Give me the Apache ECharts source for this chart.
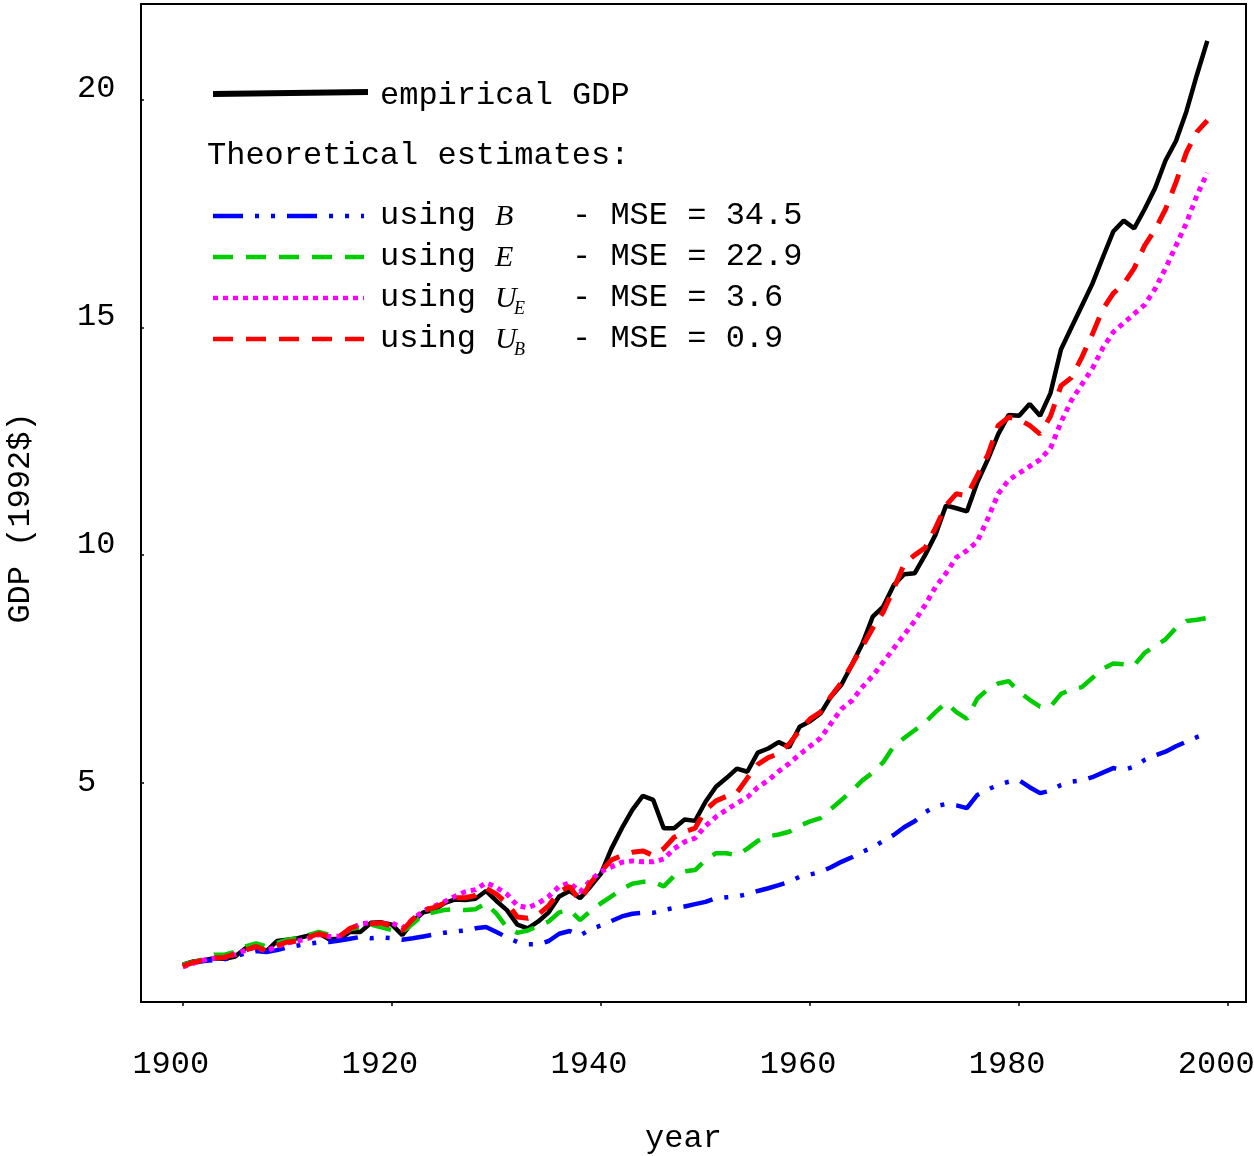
<!DOCTYPE html>
<html>
<head>
<meta charset="utf-8">
<script src="https://cdn.jsdelivr.net/npm/echarts@6/dist/echarts.min.js"></script>
<style>
  html, body { margin: 0; padding: 0; background: #fff; }
  #chart { width: 1254px; height: 1156px; }
</style>
</head>
<body>
<div id="chart"></div>
<script>
// yearly values, 1900 .. 1998
var firstYear = 1900;
var empiricalGDP = [
  1.00, 1.07, 1.10, 1.14, 1.13, 1.18, 1.36, 1.38, 1.30, 1.52,
  1.55, 1.58, 1.64, 1.69, 1.56, 1.57, 1.72, 1.72, 1.92, 1.93,
  1.88, 1.65, 1.95, 2.15, 2.20, 2.35, 2.43, 2.42, 2.45, 2.62,
  2.40, 2.20, 1.88, 1.80, 1.95, 2.15, 2.50, 2.62, 2.46, 2.72,
  3.00, 3.55, 4.00, 4.40, 4.71, 4.62, 4.00, 4.00, 4.19, 4.16,
  4.58, 4.91, 5.10, 5.31, 5.24, 5.66, 5.75, 5.89, 5.78, 6.23,
  6.35, 6.52, 6.89, 7.15, 7.59, 8.05, 8.65, 8.87, 9.34, 9.58,
  9.60, 10.00, 10.45, 11.09, 11.03, 10.96, 11.60, 12.10, 12.66, 13.08,
  13.06, 13.32, 13.06, 13.56, 14.52, 15.00, 15.48, 15.96, 16.54, 17.11,
  17.35, 17.18, 17.60, 18.06, 18.67, 19.10, 19.75, 20.55, 21.30
];
var usingB = [
  0.98, 1.04, 1.08, 1.10, 1.12, 1.18, 1.25, 1.30, 1.28, 1.32,
  1.38, 1.42, 1.46, 1.49, 1.50, 1.53, 1.57, 1.61, 1.58, 1.60,
  1.58, 1.55, 1.58, 1.62, 1.66, 1.70, 1.73, 1.75, 1.80, 1.83,
  1.72, 1.60, 1.50, 1.45, 1.45, 1.52, 1.68, 1.74, 1.64, 1.78,
  1.86, 1.96, 2.06, 2.12, 2.14, 2.14, 2.20, 2.25, 2.28, 2.33,
  2.38, 2.46, 2.48, 2.50, 2.55, 2.62, 2.68, 2.75, 2.82, 2.93,
  2.98, 3.04, 3.14, 3.26, 3.36, 3.48, 3.58, 3.72, 3.85, 4.02,
  4.15, 4.35, 4.48, 4.53, 4.50, 4.44, 4.73, 4.85, 4.95, 5.02,
  5.05, 4.90, 4.77, 4.82, 4.95, 5.02, 5.05, 5.12, 5.22, 5.32,
  5.28, 5.35, 5.50, 5.60, 5.68, 5.80, 5.90, 6.00, 6.08
];
var usingE = [
  1.00, 1.06, 1.12, 1.22, 1.22, 1.28, 1.40, 1.47, 1.40, 1.48,
  1.55, 1.58, 1.65, 1.72, 1.66, 1.64, 1.78, 1.82, 1.88, 1.82,
  1.76, 1.72, 1.90, 2.10, 2.15, 2.20, 2.22, 2.20, 2.22, 2.35,
  2.12, 1.82, 1.70, 1.75, 1.85, 1.95, 2.15, 2.20, 1.98, 2.18,
  2.35, 2.50, 2.66, 2.78, 2.82, 2.82, 2.72, 2.95, 3.05, 3.08,
  3.30, 3.45, 3.45, 3.40, 3.55, 3.72, 3.82, 3.86, 3.92, 4.05,
  4.15, 4.22, 4.42, 4.62, 4.82, 5.05, 5.22, 5.45, 5.80, 5.98,
  6.15, 6.32, 6.55, 6.76, 6.55, 6.40, 6.85, 7.05, 7.18, 7.23,
  7.00, 6.82, 6.67, 6.67, 6.95, 7.05, 7.10, 7.30, 7.50, 7.62,
  7.60, 7.58, 7.85, 8.00, 8.15, 8.40, 8.55, 8.58, 8.62
];
var usingUE = [
  0.95, 1.03, 1.10, 1.14, 1.16, 1.22, 1.32, 1.38, 1.30, 1.40,
  1.48, 1.52, 1.58, 1.66, 1.62, 1.63, 1.78, 1.90, 1.92, 1.88,
  1.92, 1.80, 2.00, 2.18, 2.28, 2.38, 2.50, 2.60, 2.65, 2.80,
  2.70, 2.55, 2.30, 2.25, 2.35, 2.50, 2.72, 2.80, 2.60, 2.85,
  3.05, 3.15, 3.25, 3.28, 3.26, 3.26, 3.32, 3.55, 3.70, 3.78,
  4.05, 4.25, 4.40, 4.55, 4.68, 4.90, 5.05, 5.25, 5.42, 5.62,
  5.80, 5.98, 6.30, 6.62, 6.80, 7.10, 7.35, 7.65, 7.95, 8.25,
  8.55, 8.90, 9.30, 9.60, 9.95, 10.10, 10.30, 10.80, 11.35, 11.65,
  11.80, 11.95, 12.10, 12.35, 12.92, 13.40, 13.75, 14.10, 14.55, 14.90,
  15.10, 15.30, 15.50, 15.85, 16.30, 16.80, 17.30, 17.90, 18.40
];
var usingUB = [
  0.97, 1.05, 1.10, 1.15, 1.16, 1.24, 1.32, 1.40, 1.30, 1.42,
  1.50, 1.52, 1.60, 1.68, 1.62, 1.62, 1.80, 1.88, 1.90, 1.92,
  1.85, 1.75, 2.00, 2.20, 2.25, 2.35, 2.47, 2.47, 2.52, 2.68,
  2.55, 2.35, 2.05, 2.02, 2.10, 2.30, 2.60, 2.72, 2.40, 2.80,
  3.05, 3.30, 3.40, 3.47, 3.50, 3.40, 3.55, 3.80, 3.92, 4.00,
  4.40, 4.60, 4.70, 4.78, 5.10, 5.40, 5.55, 5.64, 5.85, 6.15,
  6.40, 6.55, 6.90, 7.20, 7.59, 7.99, 8.40, 8.75, 9.26, 9.80,
  10.00, 10.16, 10.60, 11.09, 11.35, 11.30, 11.75, 12.20, 12.85, 13.03,
  12.98, 12.85, 12.66, 13.05, 13.72, 13.90, 14.35, 14.85, 15.40, 15.75,
  15.96, 16.30, 16.80, 17.15, 17.60, 18.19, 18.85, 19.30, 19.55
];
var xTicks = [1900, 1920, 1940, 1960, 1980, 2000];
var yTicks = [5, 10, 15, 20];
var mseLabels = ['34.5', '22.9', '3.6', '0.9'];

var mono = '"Liberation Mono", "DejaVu Sans Mono", monospace';
var serif = '"Liberation Serif", "DejaVu Serif", serif';

function toPoints(vals) {
  return vals.map(function (v, i) { return [firstYear + i, v]; });
}

// line looks, shared by the plot and the hand made key
var looks = [
  { name: 'empirical GDP', data: empiricalGDP, color: '#000000', width: 4.5, dash: 'solid' },
  { name: 'B', data: usingB, color: '#0000ff', width: 4.5, dash: [30, 12, 4, 12, 4, 12] },
  { name: 'E', data: usingE, color: '#00cc00', width: 4.5, dash: [20, 13] },
  { name: 'U_E', data: usingUE, color: '#ff00ff', width: 5, dash: [5, 5] },
  { name: 'U_B', data: usingUB, color: '#ff0000', width: 5, dash: [20, 13] }
];

var chart = echarts.init(document.getElementById('chart'), null, { renderer: 'canvas' });

var series = looks.map(function (l, k) {
  return {
    name: l.name,
    type: 'line',
    data: toPoints(l.data),
    showSymbol: false,
    symbol: 'none',
    z: 2 + k,
    lineStyle: { color: l.color, width: l.width, type: l.dash, cap: 'butt' }
  };
});

// key on the upper left
var keyItems = [];
keyItems.push({
  type: 'line', shape: { x1: 213, y1: 94, x2: 368, y2: 92 },
  style: { stroke: '#000', lineWidth: 6 }
});
keyItems.push({
  type: 'text', style: { text: 'empirical GDP', x: 380, y: 96, fill: '#000',
    fontSize: 32, fontFamily: mono, verticalAlign: 'middle' }
});
keyItems.push({
  type: 'text', style: { text: 'Theoretical estimates:', x: 207, y: 156, fill: '#000',
    fontSize: 32, fontFamily: mono, verticalAlign: 'middle' }
});
var rowY = [216, 257, 298, 339];
var letters = [['B', ''], ['E', ''], ['U', 'E'], ['U', 'B']];
for (var r = 0; r < 4; r++) {
  var l = looks[r + 1];
  keyItems.push({
    type: 'line', shape: { x1: 213, y1: rowY[r], x2: 364, y2: rowY[r] },
    style: { stroke: l.color, lineWidth: 4.5, lineDash: l.dash }
  });
  keyItems.push({
    type: 'text', style: { text: 'using', x: 380, y: rowY[r], fill: '#000',
      fontSize: 32, fontFamily: mono, verticalAlign: 'middle' }
  });
  keyItems.push({
    type: 'text', style: { text: letters[r][0], x: 495, y: rowY[r] + 1, fill: '#000',
      fontSize: 30, fontFamily: serif, fontStyle: 'italic', verticalAlign: 'middle' }
  });
  if (letters[r][1]) {
    keyItems.push({
      type: 'text', style: { text: letters[r][1], x: 514, y: rowY[r] + 11, fill: '#000',
        fontSize: 18, fontFamily: serif, fontStyle: 'italic', verticalAlign: 'middle' }
    });
  }
  keyItems.push({
    type: 'text', style: { text: '- MSE = ' + mseLabels[r], x: 572, y: rowY[r], fill: '#000',
      fontSize: 32, fontFamily: mono, verticalAlign: 'middle' }
  });
}

chart.setOption({
  animation: false,
  backgroundColor: '#fff',
  grid: {
    left: 141, right: 8, top: 4, bottom: 154,
    containLabel: false,
    outerBoundsMode: 'none',
    show: true, borderColor: '#000', borderWidth: 2, backgroundColor: 'transparent'
  },
  xAxis: {
    type: 'value',
    min: 1896,
    max: 2001.7,
    axisLine: { show: false },
    splitLine: { show: false },
    axisTick: { show: true, customValues: xTicks, length: 4, lineStyle: { color: '#000', width: 1.5 } },
    axisLabel: {
      customValues: xTicks,
      hideOverlap: false,
      formatter: function (v) { return String(v); },
      fontSize: 32, fontFamily: mono, color: '#000',
      margin: 47, padding: [0, 24, 0, 0]
    },
    name: 'year',
    nameLocation: 'middle',
    nameGap: 121,
    nameTextStyle: { fontSize: 32, fontFamily: mono, color: '#000', padding: [0, 20, 0, 0] }
  },
  yAxis: {
    type: 'value',
    min: 0.18,
    max: 22.11,
    axisLine: { show: false },
    splitLine: { show: false },
    axisTick: { show: true, inside: true, customValues: yTicks, length: 3, lineStyle: { color: '#000', width: 1.5 } },
    axisLabel: {
      customValues: yTicks,
      align: 'left',
      margin: 64,
      fontSize: 32, fontFamily: mono, color: '#000',
      formatter: function (v) { return v === 5 ? '{b|' + v + '}' : '{a|' + v + '}'; },
      rich: {
        a: { fontSize: 32, fontFamily: mono, color: '#000', padding: [0, 0, 22, 0] },
        b: { fontSize: 32, fontFamily: mono, color: '#000' }
      }
    },
    name: 'GDP (1992$)',
    nameLocation: 'middle',
    nameGap: 104,
    nameTextStyle: { fontSize: 32, fontFamily: mono, color: '#000', padding: [0, 30, 0, 0] }
  },
  series: series,
  graphic: keyItems
});
</script>
</body>
</html>
